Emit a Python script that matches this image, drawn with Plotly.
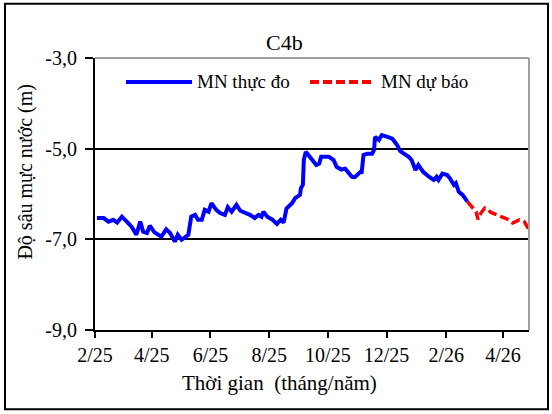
import plotly.graph_objects as go

# Observed water level (MN thực đo)
obs_dates = [
    "2025-02-03", "2025-02-10", "2025-02-15", "2025-02-20", "2025-02-24", "2025-03-01",
    "2025-03-06", "2025-03-11", "2025-03-16", "2025-03-20", "2025-03-23", "2025-03-27",
    "2025-03-30", "2025-04-04", "2025-04-11", "2025-04-16", "2025-04-20", "2025-04-25",
    "2025-04-28", "2025-05-02", "2025-05-09", "2025-05-12", "2025-05-16", "2025-05-19",
    "2025-05-23", "2025-05-26", "2025-05-30", "2025-06-02", "2025-06-07", "2025-06-11",
    "2025-06-16", "2025-06-19", "2025-06-23", "2025-06-28", "2025-07-02", "2025-07-07",
    "2025-07-12", "2025-07-17", "2025-07-21", "2025-07-24", "2025-07-26", "2025-07-30",
    "2025-08-04", "2025-08-09", "2025-08-13", "2025-08-16", "2025-08-19", "2025-08-25",
    "2025-08-28", "2025-09-02", "2025-09-03", "2025-09-05", "2025-09-06", "2025-09-08",
    "2025-09-14", "2025-09-19", "2025-09-22", "2025-09-24", "2025-10-02", "2025-10-07",
    "2025-10-10", "2025-10-15", "2025-10-19", "2025-10-22", "2025-10-26", "2025-10-29",
    "2025-11-04", "2025-11-05", "2025-11-07", "2025-11-11", "2025-11-16", "2025-11-18",
    "2025-11-19", "2025-11-23", "2025-11-26", "2025-12-02", "2025-12-07", "2025-12-12",
    "2025-12-15", "2025-12-19", "2025-12-24", "2025-12-27", "2025-12-31", "2026-01-03",
    "2026-01-08", "2026-01-14", "2026-01-19", "2026-01-22", "2026-01-24", "2026-01-28",
    "2026-02-02", "2026-02-05", "2026-02-09", "2026-02-11", "2026-02-14", "2026-02-18",
    "2026-02-21", "2026-02-23",
]
obs_values = [
    -6.53, -6.53, -6.61, -6.57, -6.63, -6.50,
    -6.61, -6.72, -6.90, -6.61, -6.83, -6.86,
    -6.70, -6.85, -6.94, -6.78, -6.86, -7.05,
    -6.90, -7.01, -6.90, -6.50, -6.46, -6.57,
    -6.57, -6.35, -6.39, -6.20, -6.35, -6.42,
    -6.46, -6.29, -6.39, -6.24, -6.37, -6.41,
    -6.46, -6.53, -6.46, -6.50, -6.39, -6.50,
    -6.56, -6.66, -6.57, -6.63, -6.32, -6.20,
    -6.09, -6.02, -5.87, -5.80, -5.25, -5.07,
    -5.22, -5.36, -5.33, -5.18, -5.18, -5.25,
    -5.40, -5.46, -5.44, -5.53, -5.62, -5.63,
    -5.51, -5.55, -5.14, -5.11, -5.11, -5.03,
    -4.74, -4.81, -4.70, -4.74, -4.78, -4.92,
    -5.05, -5.11, -5.18, -5.25, -5.47, -5.36,
    -5.51, -5.62, -5.69, -5.62, -5.69, -5.55,
    -5.58, -5.66, -5.80, -5.76, -5.95, -6.02,
    -6.13, -6.17,
]

# Forecast water level (MN dự báo)
fc_dates = [
    "2026-02-23", "2026-02-28", "2026-03-04", "2026-03-06", "2026-03-09", "2026-03-13",
    "2026-03-20", "2026-03-30", "2026-04-06", "2026-04-11", "2026-04-18", "2026-04-23",
    "2026-04-28",
]
fc_values = [
    -6.17, -6.28, -6.39, -6.56, -6.42, -6.31,
    -6.41, -6.50, -6.56, -6.64, -6.57, -6.61,
    -6.79,
]

x_tick_vals = ["2025-02-01", "2025-04-01", "2025-06-01", "2025-08-01",
               "2025-10-01", "2025-12-01", "2026-02-01", "2026-04-01"]
x_tick_text = ["2/25", "4/25", "6/25", "8/25", "10/25", "12/25", "2/26", "4/26"]
y_tick_vals = [-9, -7, -5, -3]
y_tick_text = ["-9,0", "-7,0", "-5,0", "-3,0"]

title_text = "C4b"
x_title = "Thời gian\u00a0 (tháng/năm)"
y_title = "Độ sâu mực nước (m)"
legend_obs = "MN thực đo"
legend_fc = "MN dự báo"

FONT = "Liberation Serif"

fig = go.Figure()
fig.add_trace(go.Scatter(x=obs_dates, y=obs_values, mode="lines", name=legend_obs,
                         line=dict(color="#0000FF", width=4), showlegend=False))
fig.add_trace(go.Scatter(x=fc_dates, y=fc_values, mode="lines", name=legend_fc,
                         line=dict(color="#FF0000", width=3.5, dash="9px,4px"),
                         showlegend=False))

W, H = 552, 414
L, R, T, B = 95, 23, 57.5, 83.5
pw, ph = W - L - R, H - T - B

def px(x):
    return (x - L) / pw

def py(y):
    return (H - B - y) / ph

shapes = [
    # outer chart frame
    dict(type="rect", xref="paper", yref="paper", x0=px(5), x1=px(548), y0=py(410), y1=py(3),
         line=dict(color="black", width=2), layer="below"),
    # plot-area border (top/right gray)
    dict(type="line", xref="paper", yref="paper", x0=0, x1=1, y0=1, y1=1,
         line=dict(color="#A0A0A0", width=2)),
    dict(type="line", xref="paper", yref="paper", x0=1, x1=1, y0=0, y1=1,
         line=dict(color="#A0A0A0", width=2)),
    # legend samples
    dict(type="line", xref="paper", yref="paper", x0=px(126), x1=px(192), y0=py(81.5), y1=py(81.5),
         line=dict(color="#0000FF", width=4)),
    dict(type="line", xref="paper", yref="paper", x0=px(310), x1=px(375), y0=py(81.5), y1=py(81.5),
         line=dict(color="#FF0000", width=4, dash="9px,4px")),
]

annotations = [
    dict(text=title_text, xref="paper", yref="paper", x=px(284), y=py(42), showarrow=False,
         xanchor="center", yanchor="middle", font=dict(family=FONT, size=22, color="black")),
    dict(text=x_title, xref="paper", yref="paper", x=px(279), y=py(384), showarrow=False,
         xanchor="center", yanchor="middle", font=dict(family=FONT, size=21, color="black")),
    dict(text=y_title, xref="paper", yref="paper", x=px(26), y=py(171.5), showarrow=False,
         textangle=-90, xanchor="center", yanchor="middle",
         font=dict(family=FONT, size=20, color="black")),
    dict(text=legend_obs, xref="paper", yref="paper", x=px(195), y=py(81.5), showarrow=False,
         xanchor="left", yanchor="middle", font=dict(family=FONT, size=19, color="black")),
    dict(text=legend_fc, xref="paper", yref="paper", x=px(379), y=py(81.5), showarrow=False,
         xanchor="left", yanchor="middle", font=dict(family=FONT, size=19, color="black")),
]

fig.update_layout(
    width=W, height=H,
    margin=dict(l=L, r=R, t=T, b=B, autoexpand=False),
    paper_bgcolor="white", plot_bgcolor="white",
    font=dict(family=FONT, size=20, color="black"),
    shapes=shapes, annotations=annotations, showlegend=False,
)
fig.update_xaxes(
    type="date", range=["2025-02-01", "2026-04-28"],
    tickvals=x_tick_vals, ticktext=x_tick_text,
    showgrid=False, zeroline=False,
    showline=True, linecolor="black", linewidth=2,
    ticks="outside", ticklen=6, tickwidth=1.5, tickcolor="black",
    tickfont=dict(family=FONT, size=20, color="black"),
)
fig.update_yaxes(
    range=[-9, -3],
    tickvals=y_tick_vals, ticktext=y_tick_text,
    showgrid=True, gridcolor="black", gridwidth=1.5, zeroline=False,
    showline=True, linecolor="black", linewidth=2,
    ticks="outside", ticklen=8, tickwidth=1.5, tickcolor="black",
    ticklabelstandoff=4,
    tickfont=dict(family=FONT, size=20, color="black"),
)

fig.write_html("out.html", config={"displayModeBar": False},
               post_script="document.body.style.margin='0';document.body.style.padding='0';")
